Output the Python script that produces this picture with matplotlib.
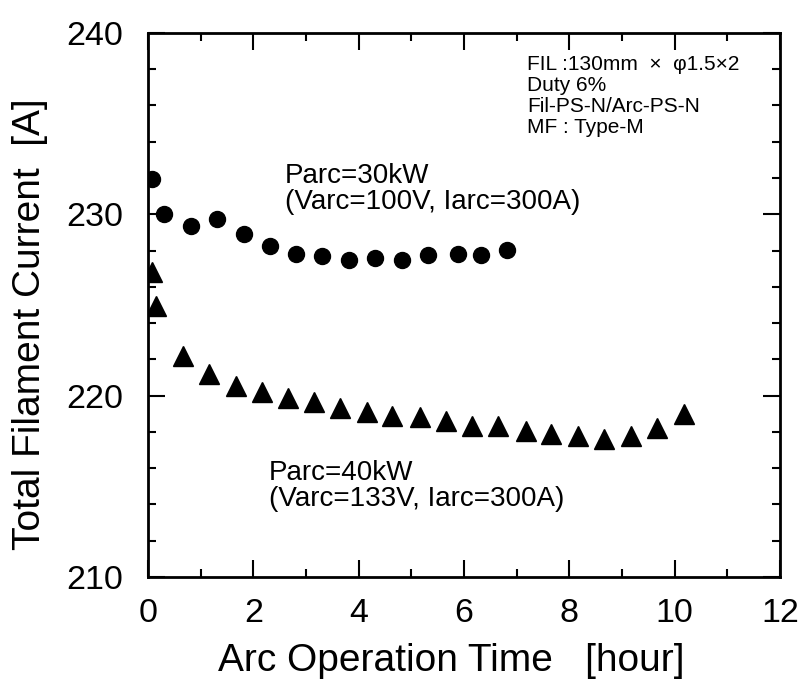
import matplotlib
matplotlib.use("Agg")
import matplotlib.pyplot as plt
from matplotlib.ticker import MultipleLocator

plt.rcParams['font.family'] = ['Liberation Sans', 'DejaVu Sans']

# Parc = 30 kW (circles)
t_30 = [0.08, 0.31, 0.82, 1.31, 1.82, 2.31, 2.81, 3.30, 3.82, 4.31, 4.82, 5.32, 5.88, 6.33, 6.82]
i_30 = [231.95, 230.0, 229.33, 229.73, 228.93, 228.24, 227.79, 227.70, 227.48, 227.61, 227.48, 227.74, 227.79, 227.74, 228.03]

# Parc = 40 kW (triangles)
t_40 = [0.08, 0.15, 0.66, 1.16, 1.67, 2.16, 2.65, 3.15, 3.64, 4.15, 4.64, 5.16,
        5.65, 6.16, 6.65, 7.17, 7.66, 8.17, 8.66, 9.18, 9.67, 10.18]
i_40 = [226.8, 224.97, 222.2, 221.19, 220.52, 220.2, 219.89, 219.65, 219.34, 219.07, 218.9, 218.84,
        218.62, 218.3, 218.3, 218.03, 217.9, 217.79, 217.61, 217.75, 218.2, 219.0]

info_lines = ['FIL :130mm  ×  φ1.5×2', 'Duty 6%', 'Fil-PS-N/Arc-PS-N', 'MF : Type-M']

fig = plt.figure(figsize=(8.02, 6.82), dpi=100)
ax = fig.add_axes([0.1845, 0.154, 0.788, 0.7977])

ax.plot(t_30, i_30, 'o', color='black', markersize=11.5, linestyle='none')
ax.plot(t_40, i_40, '^', color='black', markersize=14, linestyle='none')

ax.set_xlim(0, 12)
ax.set_ylim(210, 240)
ax.xaxis.set_major_locator(MultipleLocator(2))
ax.xaxis.set_minor_locator(MultipleLocator(1))
ax.yaxis.set_major_locator(MultipleLocator(10))
ax.yaxis.set_minor_locator(MultipleLocator(2))
ax.tick_params(which='both', direction='in', top=True, right=True, width=1.5)
ax.tick_params(which='major', length=12, labelsize=24.5)
ax.tick_params(axis='y', which='major', pad=18)
ax.tick_params(axis='x', which='major', pad=15)
ax.tick_params(which='minor', length=6)
for s in ax.spines.values():
    s.set_linewidth(2)

ax.set_xlabel('Arc Operation Time   [hour]', fontsize=28)
ax.set_ylabel('Total Filament Current  [A]', fontsize=28)
ax.xaxis.set_label_coords(0.48, -0.121)
ax.yaxis.set_label_coords(-0.158, 0.465)

ax.text(2.6, 231.7, 'Parc=30kW', fontsize=20)
ax.text(2.6, 230.3, '(Varc=100V, Iarc=300A)', fontsize=20)
ax.text(2.3, 215.35, 'Parc=40kW', fontsize=20)
ax.text(2.3, 213.9, '(Varc=133V, Iarc=300A)', fontsize=20)

for k, line in enumerate(info_lines):
    ax.annotate(line, xy=(7.2, 237.95), xytext=(0, -15.1 * k), textcoords='offset points',
                fontsize=15, va='baseline')

fig.savefig('out.png', dpi=100)
